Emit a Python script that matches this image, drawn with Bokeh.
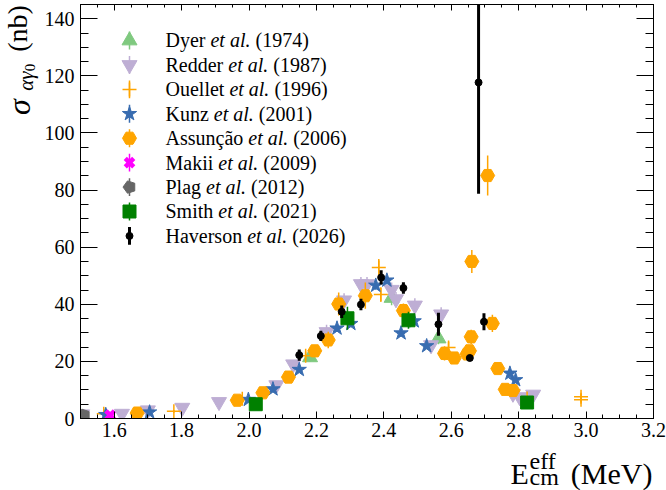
import math
from bokeh.plotting import figure
from bokeh.layouts import row, column
from bokeh.models import (SingleIntervalTicker, LinearAxis, PrintfTickFormatter, Label,
                          CustomLabelingPolicy)
from bokeh.embed import file_html
from bokeh.resources import INLINE

# ---------------- data ----------------
dyer_x = [2.181, 2.423, 2.562]
dyer_y = [21.4, 42.2, 28.0]
dyer_e = [1.5, 2.5, 2.0]

redder_x = [1.505, 1.623, 1.700, 1.802, 1.911, 2.081, 2.131, 2.230, 2.282, 2.332,
            2.350, 2.423, 2.436, 2.492, 2.540, 2.570, 2.783, 2.803, 2.843]
redder_y = [1.5, 1.7, 2.9, 3.8, 5.8, 11.7, 19.0, 30.3, 41.4, 47.1,
            47.1, 45.1, 41.8, 39.6, 25.7, 36.5, 8.7, 7.5, 8.4]
redder_e = [0.3, 0.3, 0.4, 0.5, 0.7, 1.0, 1.5, 2.5, 2.5, 2.5,
            2.5, 2.5, 2.5, 2.5, 1.5, 2.5, 0.8, 0.8, 1.0]

ouellet_x = [1.569, 1.777, 1.980, 2.168, 2.385, 2.391, 2.592, 2.825, 2.985, 2.985]
ouellet_y = [1.7, 2.5, 6.9, 22.0, 52.9, 43.4, 24.9, 7.0, 6.6, 7.6]
ouellet_e = [0.3, 0.5, 1.0, 1.5, 3.0, 2.5, 2.0, 1.0, 1.0, 1.0]

kunz_x = [1.575, 1.705, 1.998, 2.071, 2.149, 2.261, 2.302, 2.376, 2.409, 2.451,
          2.490, 2.527, 2.774, 2.791]
kunz_y = [1.3, 2.2, 6.6, 10.3, 17.1, 31.6, 33.2, 46.6, 48.4, 29.9,
          34.1, 25.4, 15.8, 13.5]
kunz_e = [0.3, 0.4, 0.6, 0.8, 1.0, 1.2, 1.2, 1.5, 1.5, 1.2,
          1.2, 1.0, 1.0, 1.0]

assuncao_x = [1.668, 1.965, 2.041, 2.117, 2.195, 2.235, 2.266, 2.345, 2.458, 2.580,
              2.609, 2.647, 2.654, 2.659, 2.661, 2.708, 2.722, 2.738, 2.760, 2.783]
assuncao_y = [1.9, 6.4, 9.0, 14.5, 23.7, 27.5, 40.1, 43.0, 37.8, 22.8,
              21.2, 22.6, 23.7, 28.6, 55.0, 85.1, 33.3, 17.5, 10.2, 9.8]
assuncao_e = [0.5, 0.8, 1.0, 1.2, 2.0, 2.9, 4.0, 4.6, 2.5, 2.5,
              1.5, 1.5, 2.0, 2.5, 4.0, 7.0, 3.0, 1.2, 1.0, 1.0]

makii_x = [1.588]
makii_y = [1.2]
makii_e = [0.3]

plag_x = [1.510]
plag_y = [1.1]
plag_e = [0.3]

smith_x = [2.020, 2.292, 2.473, 2.825]
smith_y = [5.0, 35.1, 34.4, 5.6]
smith_e = [0.8, 4.0, 3.0, 0.8]

haverson_x = [2.149, 2.213, 2.275, 2.332, 2.392, 2.458, 2.562, 2.655, 2.681, 2.697]
haverson_y = [22.2, 28.9, 37.4, 39.9, 49.4, 45.7, 33.0, 21.2, 117.7, 33.9]
haverson_e = [2.0, 1.8, 2.2, 2.0, 2.5, 2.0, 4.0, 0.5, 39.0, 3.0]

legend_names = ["Dyer", "Redder", "Ouellet", "Kunz", "Assunção", "Makii", "Plag", "Smith", "Haverson"]
legend_years = ["(1974)", "(1987)", "(1996)", "(2001)", "(2006)", "(2009)", "(2012)", "(2021)", "(2026)"]

x_ticks_fmt = "%.1f"

# ---------------- layout ----------------
W, H = 666, 490
YT_W = 40          # width of the strip holding the y title
XT_H = 44          # height of the strip holding the x title
MAIN_W, MAIN_H = W - YT_W, H - XT_H
XMIN, XMAX = 1.5, 3.2
YMIN, YMAX = 0.0, 145.0
FX0, FX1, FY0, FY1 = 80, 653, 1, 418      # frame in page pixels
FONT = "Liberation Serif"
MID = 0.335        # baseline sits this many em below the "middle" anchor


def dx(px):
    return XMIN + (px - FX0) / (FX1 - FX0) * (XMAX - XMIN)


def dy(py):
    return YMIN + (FY1 - py) / (FY1 - FY0) * (YMAX - YMIN)


p = figure(width=MAIN_W, height=MAIN_H, x_range=(XMIN, XMAX), y_range=(YMIN, YMAX),
           output_backend="svg", toolbar_location=None,
           min_border_left=FX0 - YT_W, min_border_right=W - FX1,
           min_border_top=FY0, min_border_bottom=MAIN_H - FY1)
p.background_fill_color = "white"
p.border_fill_color = "white"
p.outline_line_color = "black"
p.outline_line_width = 1
p.xgrid.visible = False
p.ygrid.visible = False

xt = SingleIntervalTicker(interval=0.2, num_minor_ticks=4)
yt = SingleIntervalTicker(interval=20, num_minor_ticks=4)

no_labels = CustomLabelingPolicy(code="""
for (const i of indices) {
  if (false) yield i
}
""")


def style_axis(ax, tin, tmin, labels=True, standoff=5):
    ax.axis_line_color = "black"
    ax.major_tick_line_color = "black"
    ax.minor_tick_line_color = "black"
    ax.major_tick_in = tin
    ax.major_tick_out = 0
    ax.minor_tick_in = tmin
    ax.minor_tick_out = 0
    ax.major_label_text_font = FONT
    ax.major_label_text_color = "black"
    if labels:
        ax.major_label_text_font_size = "20px"
        ax.major_label_standoff = standoff
    else:
        ax.major_label_policy = no_labels
        ax.major_label_text_font_size = "1px"
        ax.major_label_standoff = 0


p.xaxis.ticker = xt
p.xaxis.formatter = PrintfTickFormatter(format=x_ticks_fmt)
p.yaxis.ticker = yt
style_axis(p.xaxis[0], 7, 4, True, 4)
style_axis(p.yaxis[0], 17, 8, True, 6)

top = LinearAxis(ticker=xt)
style_axis(top, 6, 3, False)
p.add_layout(top, "above")
right = LinearAxis(ticker=yt)
style_axis(right, 17, 8, False)
p.add_layout(right, "right")

# ---------------- series ----------------
series = [
    dict(x=dyer_x, y=dyer_y, e=dyer_e, marker="triangle", color="#7fc97f", size=15, lw=1.5),
    dict(x=redder_x, y=redder_y, e=redder_e, marker="inverted_triangle", color="#beaed4", size=15, lw=1.5),
    dict(x=ouellet_x, y=ouellet_y, e=ouellet_e, marker="cross", color="#ffa500", size=14, lw=1.5),
    dict(x=kunz_x, y=kunz_y, e=kunz_e, marker="star", color="#386cb0", size=15, lw=1.5),
    dict(x=assuncao_x, y=assuncao_y, e=assuncao_e, marker="hex", color="#ffa500", size=14, lw=1.5),
    dict(x=makii_x, y=makii_y, e=makii_e, marker="x", color="#ff00ff", size=12, lw=4.5),
    dict(x=plag_x, y=plag_y, e=plag_e, marker="pentagon", color="#666666", size=13, lw=1.5),
    dict(x=smith_x, y=smith_y, e=smith_e, marker="square", color="#008000", size=13, lw=1.5),
    dict(x=haverson_x, y=haverson_y, e=haverson_e, marker="circle", color="black", size=7, lw=3),
]


def draw_marker(xs, ys, s):
    if s["marker"] == "pentagon":
        try:
            p.ngon(x=xs, y=ys, radius=s["size"] / 2.0, radius_units="screen", n=5,
                   angle=math.pi / 2, fill_color=s["color"], line_color=s["color"])
            return
        except Exception:
            p.scatter(x=xs, y=ys, marker="hex", size=s["size"],
                      fill_color=s["color"], line_color=s["color"])
            return
    if s["marker"] in ("cross", "x"):
        p.scatter(x=xs, y=ys, marker=s["marker"], size=s["size"],
                  line_color=s["color"], line_width=s["lw"])
    else:
        p.scatter(x=xs, y=ys, marker=s["marker"], size=s["size"],
                  fill_color=s["color"], line_color=s["color"])


for s in series:
    lo = [yy - ee for yy, ee in zip(s["y"], s["e"])]
    hi = [yy + ee for yy, ee in zip(s["y"], s["e"])]
    p.segment(x0=s["x"], y0=lo, x1=s["x"], y1=hi, line_color=s["color"],
              line_width=3 if s["color"] == "black" else 1.5)
    draw_marker(s["x"], s["y"], s)

# ---------------- legend (inside the frame) ----------------
TW = {'A': 722, 'D': 722, 'H': 722, 'K': 722, 'M': 889, 'O': 722, 'P': 556, 'R': 667,
      'S': 556, 'a': 444, 'c': 444, 'd': 500, 'e': 444, 'g': 500, 'h': 500, 'i': 278,
      'k': 500, 'l': 278, 'm': 778, 'n': 500, 'o': 500, 'r': 333, 's': 389, 't': 278,
      'u': 500, 'v': 500, 'y': 500, 'z': 444, 'ç': 444, 'ã': 444, ' ': 250}


def tw(t, fs):
    return sum(TW.get(c, 500) for c in t) / 1000.0 * fs


LFS = 20
for i, s in enumerate(series):
    ry = 37.3 + 24.6 * i
    mx = 129
    p.segment(x0=[dx(mx)], y0=[dy(ry + 9)], x1=[dx(mx)], y1=[dy(ry - 9)],
              line_color=s["color"], line_width=3 if s["color"] == "black" else 1.5)
    draw_marker([dx(mx)], [dy(ry)], s)
    name = legend_names[i]
    w1 = tw(name, LFS) + 5
    baseline = ry + 6.6
    common = dict(y=dy(baseline - MID * LFS), text_font=FONT, text_font_size=f"{LFS}px",
                  text_color="black", text_baseline="middle", text_align="left")
    p.add_layout(Label(x=dx(165), text=name, **common))
    p.add_layout(Label(x=dx(165), x_offset=w1, text="et al.", text_font_style="italic", **common))
    p.add_layout(Label(x=dx(165), x_offset=w1 + 40 + 5, text=legend_years[i], **common))

# ---------------- y title strip ----------------
yfig = figure(width=YT_W, height=MAIN_H, x_range=(0, YT_W), y_range=(0, MAIN_H),
              output_backend="svg", toolbar_location=None,
              x_axis_type=None, y_axis_type=None, min_border=0)
yfig.outline_line_color = None
yfig.xgrid.visible = False
yfig.ygrid.visible = False
yfig.background_fill_color = "white"
yfig.border_fill_color = "white"


def ylab(bx, py, text, size, style="normal"):
    # bx: page x of the (vertical) baseline; py: page y where the text starts
    yfig.add_layout(Label(x=bx - MID * size, y=MAIN_H - py, text=text, text_font=FONT,
                          text_font_size=f"{size}px", text_font_style=style,
                          angle=math.pi / 2, text_baseline="middle",
                          text_align="left", text_color="black"))


ylab(29, 119, "σ", 32, "italic")
ylab(33, 93, "αγ", 21, "italic")
ylab(35, 72, "0", 15)
ylab(26, 51, "(nb)", 28)

# ---------------- x title strip ----------------
xfig = figure(width=W, height=XT_H, x_range=(0, W), y_range=(0, XT_H),
              output_backend="svg", toolbar_location=None,
              x_axis_type=None, y_axis_type=None, min_border=0)
xfig.outline_line_color = None
xfig.xgrid.visible = False
xfig.ygrid.visible = False
xfig.background_fill_color = "white"
xfig.border_fill_color = "white"


def xlab(px, by, text, size, align="left"):
    # by: page y of the baseline
    xfig.add_layout(Label(x=px, y=H - (by - MID * size), text=text, text_font=FONT,
                          text_font_size=f"{size}px", text_baseline="middle",
                          text_align=align, text_color="black"))


xlab(510, 483, "E", 30)
xlab(529, 469, "eff", 24)
xlab(529, 484.5, "cm", 24)
xlab(652, 483, "(MeV)", 30, "right")

layout = column(row(yfig, p, spacing=0), xfig, spacing=0)
open("out.html", "w").write(file_html(layout, INLINE))
